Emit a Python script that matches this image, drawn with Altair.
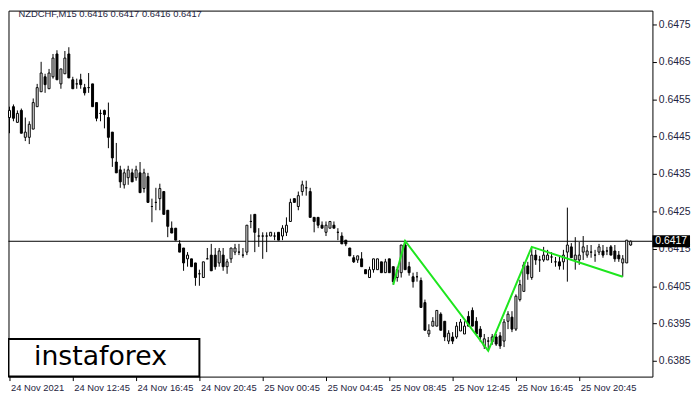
import altair as alt
import pandas as pd

# ---- candles (NZDCHF, M15), bar index 0 = 24 Nov 08:45 ----
opens = [0.64501, 0.64530, 0.64488, 0.64520, 0.64448, 0.64448, 0.64470, 0.64530, 0.64570, 0.64610,
         0.64578, 0.64610, 0.64671, 0.64591, 0.64618, 0.64671, 0.64602, 0.64591, 0.64602, 0.64581,
         0.64581, 0.64591, 0.64541, 0.64512, 0.64520, 0.64501, 0.64462, 0.64382, 0.64361, 0.64321,
         0.64340, 0.64353, 0.64340, 0.64353, 0.64311, 0.64343, 0.64263, 0.64274, 0.64284, 0.64303,
         0.64253, 0.64205, 0.64205, 0.64163, 0.64152, 0.64123, 0.64123, 0.64112, 0.64083, 0.64073,
         0.64123, 0.64133, 0.64133, 0.64112, 0.64133, 0.64102, 0.64123, 0.64141, 0.64141, 0.64133,
         0.64141, 0.64223, 0.64242, 0.64184, 0.64184, 0.64184, 0.64184, 0.64184, 0.64194, 0.64184,
         0.64194, 0.64223, 0.64284, 0.64263, 0.64303, 0.64313, 0.64303, 0.64234, 0.64234, 0.64213,
         0.64194, 0.64205, 0.64213, 0.64194, 0.64184, 0.64173, 0.64152, 0.64126, 0.64120, 0.64123,
         0.64094, 0.64073, 0.64094, 0.64094, 0.64115, 0.64086, 0.64123, 0.64102, 0.64073, 0.64086,
         0.64160, 0.64102, 0.64075, 0.64075, 0.64065, 0.64006, 0.63922, 0.63943, 0.63943, 0.63975,
         0.63956, 0.63903, 0.63914, 0.63914, 0.63930, 0.63922, 0.63969, 0.63985, 0.63956, 0.63935,
         0.63890, 0.63903, 0.63901, 0.63914, 0.63917, 0.63903, 0.63956, 0.63967, 0.63935, 0.64014,
         0.64036, 0.64104, 0.64073, 0.64133, 0.64120, 0.64120, 0.64120, 0.64128, 0.64115, 0.64115,
         0.64115, 0.64141, 0.64155, 0.64120, 0.64120, 0.64141, 0.64133, 0.64141, 0.64133, 0.64141,
         0.64144, 0.64144, 0.64155, 0.64144, 0.64133, 0.64112, 0.64112, 0.64160]
highs = [0.64530, 0.64536, 0.64520, 0.64525, 0.64501, 0.64491, 0.64552, 0.64591, 0.64650, 0.64618,
         0.64631, 0.64671, 0.64681, 0.64631, 0.64679, 0.64689, 0.64610, 0.64605, 0.64618, 0.64591,
         0.64620, 0.64591, 0.64541, 0.64522, 0.64522, 0.64541, 0.64462, 0.64433, 0.64372, 0.64364,
         0.64372, 0.64364, 0.64372, 0.64382, 0.64364, 0.64353, 0.64284, 0.64313, 0.64324, 0.64303,
         0.64253, 0.64223, 0.64205, 0.64173, 0.64152, 0.64141, 0.64123, 0.64112, 0.64094, 0.64115,
         0.64152, 0.64163, 0.64152, 0.64152, 0.64152, 0.64123, 0.64152, 0.64163, 0.64163, 0.64152,
         0.64213, 0.64242, 0.64242, 0.64205, 0.64194, 0.64194, 0.64194, 0.64194, 0.64194, 0.64213,
         0.64234, 0.64284, 0.64284, 0.64303, 0.64332, 0.64332, 0.64313, 0.64234, 0.64234, 0.64223,
         0.64223, 0.64223, 0.64223, 0.64205, 0.64194, 0.64173, 0.64152, 0.64133, 0.64131, 0.64141,
         0.64094, 0.64102, 0.64123, 0.64123, 0.64115, 0.64123, 0.64123, 0.64102, 0.64102, 0.64160,
         0.64173, 0.64115, 0.64086, 0.64088, 0.64073, 0.64014, 0.63948, 0.63967, 0.63985, 0.63980,
         0.63956, 0.63932, 0.63927, 0.63954, 0.63962, 0.63956, 0.63983, 0.63993, 0.63967, 0.63943,
         0.63922, 0.63914, 0.63922, 0.63922, 0.63927, 0.63962, 0.63983, 0.63983, 0.64028, 0.64067,
         0.64115, 0.64115, 0.64152, 0.64147, 0.64131, 0.64155, 0.64147, 0.64141, 0.64128, 0.64128,
         0.64147, 0.64260, 0.64165, 0.64181, 0.64168, 0.64184, 0.64160, 0.64160, 0.64147, 0.64163,
         0.64160, 0.64155, 0.64160, 0.64160, 0.64144, 0.64133, 0.64173, 0.64172]
lows = [0.64459, 0.64491, 0.64488, 0.64459, 0.64438, 0.64430, 0.64470, 0.64530, 0.64570, 0.64567,
        0.64578, 0.64605, 0.64602, 0.64578, 0.64618, 0.64607, 0.64578, 0.64578, 0.64578, 0.64560,
        0.64567, 0.64530, 0.64491, 0.64491, 0.64472, 0.64419, 0.64369, 0.64353, 0.64313, 0.64311,
        0.64321, 0.64329, 0.64332, 0.64300, 0.64300, 0.64274, 0.64221, 0.64253, 0.64253, 0.64242,
        0.64181, 0.64192, 0.64173, 0.64141, 0.64091, 0.64102, 0.64102, 0.64051, 0.64051, 0.64073,
        0.64123, 0.64091, 0.64094, 0.64102, 0.64091, 0.64083, 0.64112, 0.64133, 0.64133, 0.64126,
        0.64133, 0.64205, 0.64141, 0.64155, 0.64123, 0.64141, 0.64184, 0.64173, 0.64173, 0.64173,
        0.64184, 0.64223, 0.64274, 0.64253, 0.64292, 0.64292, 0.64234, 0.64194, 0.64205, 0.64205,
        0.64184, 0.64205, 0.64205, 0.64173, 0.64163, 0.64157, 0.64131, 0.64112, 0.64112, 0.64102,
        0.64083, 0.64073, 0.64086, 0.64094, 0.64086, 0.64086, 0.64086, 0.64054, 0.64062, 0.64073,
        0.64094, 0.64078, 0.64046, 0.64062, 0.63993, 0.63932, 0.63914, 0.63943, 0.63943, 0.63932,
        0.63903, 0.63895, 0.63895, 0.63909, 0.63930, 0.63922, 0.63943, 0.63943, 0.63922, 0.63901,
        0.63882, 0.63880, 0.63893, 0.63890, 0.63882, 0.63887, 0.63935, 0.63927, 0.63930, 0.64009,
        0.64036, 0.64067, 0.64067, 0.64107, 0.64088, 0.64115, 0.64120, 0.64112, 0.64102, 0.64094,
        0.64094, 0.64062, 0.64126, 0.64094, 0.64107, 0.64120, 0.64126, 0.64126, 0.64115, 0.64133,
        0.64126, 0.64133, 0.64133, 0.64115, 0.64115, 0.64075, 0.64112, 0.64158]
closes = [0.64520, 0.64499, 0.64512, 0.64459, 0.64462, 0.64483, 0.64541, 0.64581, 0.64620, 0.64589,
          0.64620, 0.64660, 0.64602, 0.64631, 0.64660, 0.64607, 0.64578, 0.64591, 0.64589, 0.64567,
          0.64581, 0.64530, 0.64499, 0.64512, 0.64509, 0.64448, 0.64393, 0.64353, 0.64329, 0.64353,
          0.64361, 0.64329, 0.64361, 0.64300, 0.64353, 0.64274, 0.64263, 0.64274, 0.64311, 0.64242,
          0.64210, 0.64192, 0.64173, 0.64141, 0.64112, 0.64133, 0.64102, 0.64073, 0.64083, 0.64115,
          0.64123, 0.64091, 0.64102, 0.64144, 0.64102, 0.64115, 0.64152, 0.64152, 0.64141, 0.64133,
          0.64213, 0.64223, 0.64194, 0.64184, 0.64184, 0.64184, 0.64194, 0.64184, 0.64173, 0.64205,
          0.64213, 0.64274, 0.64274, 0.64292, 0.64321, 0.64313, 0.64234, 0.64223, 0.64213, 0.64205,
          0.64213, 0.64223, 0.64205, 0.64194, 0.64163, 0.64163, 0.64131, 0.64115, 0.64131, 0.64102,
          0.64083, 0.64094, 0.64123, 0.64123, 0.64086, 0.64115, 0.64086, 0.64062, 0.64094, 0.64160,
          0.64094, 0.64086, 0.64062, 0.64075, 0.63993, 0.63932, 0.63932, 0.63956, 0.63985, 0.63932,
          0.63914, 0.63924, 0.63903, 0.63943, 0.63954, 0.63943, 0.63943, 0.63943, 0.63922, 0.63914,
          0.63909, 0.63903, 0.63914, 0.63895, 0.63890, 0.63954, 0.63975, 0.63935, 0.64023, 0.64054,
          0.64107, 0.64083, 0.64133, 0.64120, 0.64120, 0.64133, 0.64133, 0.64128, 0.64115, 0.64104,
          0.64133, 0.64160, 0.64126, 0.64133, 0.64133, 0.64155, 0.64144, 0.64141, 0.64133, 0.64155,
          0.64133, 0.64144, 0.64133, 0.64123, 0.64123, 0.64123, 0.64173, 0.64170]

# time axis labels (one every 16 bars = 4 hours)
time_ticks = [0, 16, 32, 48, 64, 80, 96, 112, 128, 144]
time_labels = ["24 Nov 2021", "24 Nov 12:45", "24 Nov 16:45", "24 Nov 20:45", "25 Nov 00:45",
               "25 Nov 04:45", "25 Nov 08:45", "25 Nov 12:45", "25 Nov 16:45", "25 Nov 20:45"]
price_ticks = [0.6385, 0.6395, 0.6405, 0.6415, 0.6425, 0.6435, 0.6445, 0.6455, 0.6465, 0.6475]

# pattern (green polyline)
pattern_bar = [97, 100, 121, 132, 155]
pattern_price = [0.64054, 0.64171, 0.63877, 0.64155, 0.64075]

current_price = [0.6417]
title_text = ["NZDCHF,M15  0.6416 0.6417 0.6416 0.6417"]
logo_text = ["instaforex"]

W, H = 651, 370
LABEL_COLOR = "#1e2440"

df = pd.DataFrame({"i": list(range(len(opens))), "open": opens, "high": highs,
                   "low": lows, "close": closes})
df["dir"] = ["up" if c >= o else "down" for o, c in zip(opens, closes)]
pat = pd.DataFrame({"i": pattern_bar, "price": pattern_price})
cur = pd.DataFrame({"p": current_price, "lab": [f"{v:.4f}" for v in current_price]})

xs = alt.Scale(domain=[-0.25, -0.25 + W / 4], nice=False, zero=False, padding=0)
ys = alt.Scale(domain=[0.63808, 0.64787], nice=False, zero=False, padding=0)

label_expr = "[" + ",".join(f"'{t}'" for t in time_labels) + "][round(datum.value/16)]"

x_axis = alt.Axis(values=time_ticks, labelExpr=label_expr, labelAlign="left", labelOffset=1,
                  labelPadding=2, tickSize=4, tickColor="black", domain=False, grid=False,
                  labelFont="Liberation Sans", labelFontSize=9.5, labelColor=LABEL_COLOR,
                  labelOverlap=False, labelFlush=False, title=None)
y_axis = alt.Axis(orient="right", values=price_ticks, format=".4f", tickSize=4, tickColor="black",
                  labelPadding=2, domain=False, grid=False, labelFont="Liberation Sans",
                  labelFontSize=10.5, labelColor=LABEL_COLOR, title=None, labelBaseline="middle",
                  labelFlush=False)

X = lambda f: alt.X(f, scale=xs, axis=x_axis)
Y = lambda f: alt.Y(f, scale=ys, axis=y_axis)

base = alt.Chart(df)

wicks = base.mark_rule(color="black", strokeWidth=1).encode(
    x=X("i:Q"), y=Y("low:Q"), y2="high:Q")

price_line = alt.Chart(cur).mark_rule(color="black", strokeWidth=1).encode(y=Y("p:Q"))

bodies = base.mark_bar(width=2, stroke="black", strokeWidth=1).encode(
    x=X("i:Q"), y=Y("open:Q"), y2="close:Q",
    fill=alt.Fill("dir:N", scale=alt.Scale(domain=["up", "down"], range=["white", "black"]),
                  legend=None))

pattern = alt.Chart(pat).mark_line(color="#1ee61e", strokeWidth=2).encode(
    x=X("i:Q"), y=Y("price:Q"))

price_box = alt.Chart(cur).mark_tick(orient="horizontal", thickness=12, size=38,
                                     color="black", opacity=1).encode(
    x=alt.value(W + 19), y=Y("p:Q"))
price_lab = alt.Chart(cur).mark_text(color="white", font="Liberation Sans", fontSize=10.5,
                                     align="center", baseline="middle").encode(
    x=alt.value(W + 19), y=Y("p:Q"), text="lab:N")

title = alt.Chart(pd.DataFrame({"t": title_text})).mark_text(
    align="left", baseline="middle", font="Liberation Sans", fontSize=9.5,
    color=LABEL_COLOR).encode(x=alt.value(10), y=alt.value(3), text="t:N")

logo_box = alt.Chart(pd.DataFrame({"t": logo_text})).mark_rect(
    fill="white", stroke="black", strokeWidth=2).encode(
    x=alt.value(0), x2=alt.value(193), y=alt.value(332), y2=alt.value(370))
logo = alt.Chart(pd.DataFrame({"t": logo_text})).mark_text(
    align="center", baseline="middle", font="DejaVu Sans", fontSize=27,
    color="black").encode(x=alt.value(93), y=alt.value(350), text="t:N")

chart = alt.layer(wicks, price_line, bodies, pattern, price_box, price_lab, title,
                  logo_box, logo).properties(
    width=W, height=H,
    autosize=alt.AutoSizeParams(type="none"),
    padding={"left": 0.5, "top": 0.5, "right": 40, "bottom": 20},
    background="white",
).configure_view(stroke="black", strokeWidth=1)

chart.save("out.html", embed_options={"renderer": "svg", "actions": False})
